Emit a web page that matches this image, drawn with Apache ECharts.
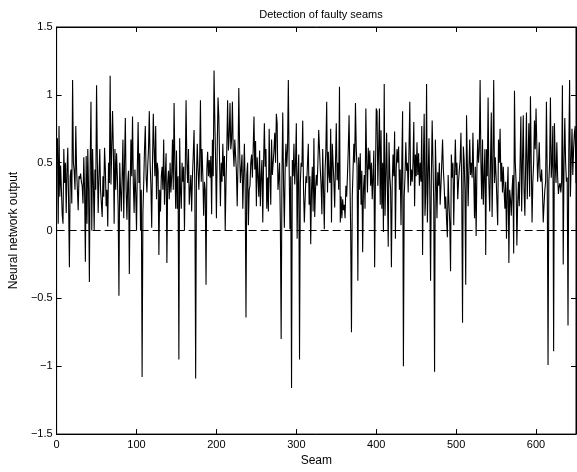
<!DOCTYPE html>
<html><head><meta charset="utf-8">
<script src="https://cdn.jsdelivr.net/npm/echarts@6/dist/echarts.min.js"></script>
<style>html,body{margin:0;padding:0;background:#fff}#c{width:577px;height:472px}</style>
</head><body><div id="c"></div>
<script>
const title = "Detection of faulty seams";
const xLabel = "Seam";
const yLabel = "Neural network output";
const yTicks = [-1.5, -1, -0.5, 0, 0.5, 1, 1.5];
const xTicks = [0, 100, 200, 300, 400, 500, 600];
const threshold = 0;
// network output per seam, seams 1..650
const outputs = [
0.68,0.05,0.77,0.25,0.48,0.3,0.12,0.05,0.6,0.35,0.5,0.13,0.45,0.61,0.2,-0.27,0.4,0.45,0.2,1.11,
0.5,0.44,0.3,0.77,0.45,0.3,0.15,0.4,0.38,0.42,0.36,0.33,0.2,0.54,0.3,-0.23,0.55,0.05,0.6,0.3,
-0.38,0.5,0.95,0.0,0.6,0.35,0.0,0.45,0.3,1.07,0.5,0.13,0.4,0.6,0.3,0.2,0.1,0.4,0.25,0.61,
0.45,0.18,0.3,0.03,0.5,0.35,1.14,0.34,0.6,0.88,0.6,0.05,0.6,0.3,0.57,0.4,0.17,-0.48,0.5,0.3,
0.14,0.4,0.67,0.09,0.5,0.83,0.3,0.08,0.35,0.44,-0.32,0.3,0.67,0.4,0.84,0.35,0.13,0.45,0.28,0.0,
0.45,0.8,0.35,0.57,0.0,0.3,-1.08,0.13,0.35,0.6,0.77,0.4,0.28,0.47,0.6,0.88,0.5,0.33,0.02,0.5,
0.86,0.6,0.4,0.77,0.23,0.5,0.44,-0.18,0.3,0.14,0.4,0.47,0.3,0.67,0.19,0.4,0.57,-0.24,0.35,0.44,
0.23,0.5,0.28,0.4,0.67,0.3,0.94,0.5,0.16,0.59,0.16,0.4,-0.95,0.68,0.3,0.16,0.5,0.36,0.47,0.0,
0.45,0.96,0.5,0.35,0.6,0.19,0.3,0.41,0.14,0.4,0.56,0.74,0.3,-1.09,0.4,0.64,0.45,0.3,0.5,0.96,
0.36,0.6,0.4,0.11,0.36,0.3,-0.4,0.45,0.58,0.4,0.52,0.39,0.55,0.12,0.67,0.4,1.18,0.81,0.5,0.09,
0.6,0.98,0.84,0.5,0.18,0.5,0.36,0.64,0.4,0.55,0.0,0.36,0.6,0.96,0.59,0.7,0.94,0.6,0.67,0.95,
0.6,0.47,0.67,0.55,0.44,0.18,0.5,1.05,0.6,0.35,0.45,0.56,0.16,0.4,0.64,0.3,-0.64,0.41,0.5,0.04,
0.3,0.33,0.5,0.56,0.39,0.6,0.84,0.45,0.66,0.18,0.54,0.4,0.25,0.59,0.18,0.4,0.52,0.06,0.5,0.79,
0.47,0.6,0.16,0.39,0.14,0.75,0.4,0.19,0.67,0.41,0.5,0.59,0.72,0.5,0.86,0.79,0.3,0.39,0.5,0.06,
-0.8,0.4,0.87,0.33,0.02,0.45,0.64,0.47,0.6,1.11,0.47,0.01,0.4,-1.16,0.52,0.4,0.64,0.34,0.5,0.79,
-0.06,0.4,0.56,-0.95,0.35,0.5,0.47,0.81,0.3,0.06,0.23,0.4,0.35,0.5,0.64,0.19,0.4,-0.1,0.3,0.47,
0.14,0.68,0.1,0.3,0.41,0.33,0.5,0.74,0.6,0.45,0.33,0.12,0.6,0.3,0.01,0.45,0.6,0.95,0.28,0.58,
0.4,0.35,0.75,0.06,0.64,0.5,0.36,0.17,0.5,0.79,0.37,0.5,0.3,1.06,0.06,0.25,0.09,0.23,0.15,0.19,
0.09,0.33,0.25,0.41,0.6,0.85,0.4,0.0,-0.75,0.25,0.45,0.64,0.5,0.94,0.6,0.47,-0.37,0.54,0.3,0.57,
0.19,0.44,-0.16,0.3,0.41,0.16,0.9,0.5,0.28,0.61,0.45,0.59,0.33,0.5,0.23,0.4,0.59,-0.27,0.4,0.9,
0.88,0.33,0.6,0.9,0.19,0.74,0.16,0.5,-0.01,1.08,0.11,0.4,0.72,0.3,-0.12,0.65,0.4,0.3,-0.27,0.35,
0.56,0.4,0.73,-0.06,0.45,0.6,0.5,0.62,0.3,0.45,0.04,0.5,0.88,-1.0,0.25,0.4,0.65,0.44,0.5,0.28,
0.6,0.95,0.33,0.45,0.36,0.5,0.8,0.18,0.56,0.4,0.65,0.41,0.57,0.33,0.5,0.36,0.77,-0.18,0.5,0.86,
0.11,0.28,1.08,0.06,0.4,0.68,0.3,-0.37,0.41,0.81,0.5,0.19,-1.04,0.67,0.4,0.09,0.43,0.33,0.5,0.19,
0.33,0.5,0.67,0.45,0.33,0.16,0.25,0.08,-0.05,0.41,0.2,0.06,-0.3,0.56,0.39,0.5,0.04,0.4,0.67,0.41,
0.5,0.23,0.36,0.45,0.52,0.72,0.3,-0.68,0.62,0.52,0.3,-0.4,0.85,0.5,0.18,0.45,0.67,0.41,0.5,0.39,
0.72,0.4,0.09,0.47,-0.04,0.45,0.67,0.5,0.6,1.11,0.5,0.23,0.67,0.19,0.4,0.6,-0.18,0.6,0.4,0.98,
0.35,0.14,0.5,0.87,0.1,0.5,1.11,0.35,0.54,0.4,0.41,0.04,0.67,0.5,0.75,0.36,0.5,0.28,0.47,0.3,
0.16,0.36,-0.06,0.3,0.47,-0.24,0.3,0.23,0.11,0.3,0.41,-0.17,1.03,0.5,0.36,-0.11,0.2,0.36,0.18,0.5,
0.84,0.14,0.5,0.85,0.3,0.11,0.5,0.87,0.23,0.5,0.79,0.25,0.99,0.5,0.06,0.36,0.5,0.81,0.6,0.9,
0.62,0.36,0.5,0.65,0.4,0.36,0.45,0.3,0.06,0.19,0.3,0.36,0.95,0.4,-0.99,0.36,0.5,0.98,0.39,0.5,
0.77,-0.89,0.79,0.5,0.35,0.65,0.4,0.27,0.33,0.35,0.28,0.36,1.07,-0.25,0.5,0.83,0.5,0.36,0.39,-0.7,
0.6,1.11,0.25,0.5,0.75,0.41,0.6,0.72,0.77,0.35
];

const font = "'Liberation Sans', Arial, Helvetica, sans-serif";
const chart = echarts.init(document.getElementById('c'), null, {renderer: 'canvas'});
const pts = outputs.map((v, i) => [i + 1, v]);
const fmt = v => (v < 0 ? '\u2212' + String(-v) : String(v));
const axisBase = {
  axisLine: {show: true, onZero: false, lineStyle: {color: '#000', width: 1}},
  axisTick: {show: true, inside: true, length: 5, lineStyle: {color: '#000'}},
  splitLine: {show: false}
};
chart.setOption({
  animation: false,
  backgroundColor: '#fff',
  title: {text: title, left: 316, top: 4, textAlign: 'center',
    textStyle: {fontFamily: font, fontSize: 11, fontWeight: 'normal', color: '#000'}},
  grid: {left: 56, right: 1, top: 27, bottom: 34, show: true, borderColor: '#000', borderWidth: 1, backgroundColor: '#fff'},
  xAxis: [
    Object.assign({type: 'value', min: xTicks[0], max: 650, interval: 100, position: 'bottom',
      name: xLabel, nameLocation: 'middle', nameGap: 18,
      nameTextStyle: {fontFamily: font, fontSize: 12, color: '#000'},
      axisLabel: {show: true, color: '#000', fontFamily: font, fontSize: 11, margin: 5, showMaxLabel: false}}, axisBase),
    Object.assign({type: 'value', min: xTicks[0], max: 650, interval: 100, position: 'top',
      axisLabel: {show: false}}, axisBase)
  ],
  yAxis: [
    Object.assign({type: 'value', min: yTicks[0], max: yTicks[yTicks.length-1], interval: 0.5, position: 'left',
      name: yLabel, nameLocation: 'middle', nameGap: 36, nameRotate: 90,
      nameTextStyle: {fontFamily: font, fontSize: 12, color: '#000'},
      axisLabel: {show: true, color: '#000', fontFamily: font, fontSize: 11, margin: 4,
        formatter: fmt}}, axisBase),
    Object.assign({type: 'value', min: yTicks[0], max: yTicks[yTicks.length-1], interval: 0.5, position: 'right',
      axisLabel: {show: false}}, axisBase)
  ],
  series: [{
    type: 'line', data: pts, xAxisIndex: 0, yAxisIndex: 0,
    showSymbol: false, symbol: 'none',
    lineStyle: {color: '#000', width: 1.1},
    markLine: {silent: true, symbol: 'none', label: {show: false},
      lineStyle: {color: '#000', width: 1, type: [8, 4]},
      data: [[{coord: [0, threshold]}, {coord: [650, threshold]}]]}
  }]
});
</script>
</body></html>
